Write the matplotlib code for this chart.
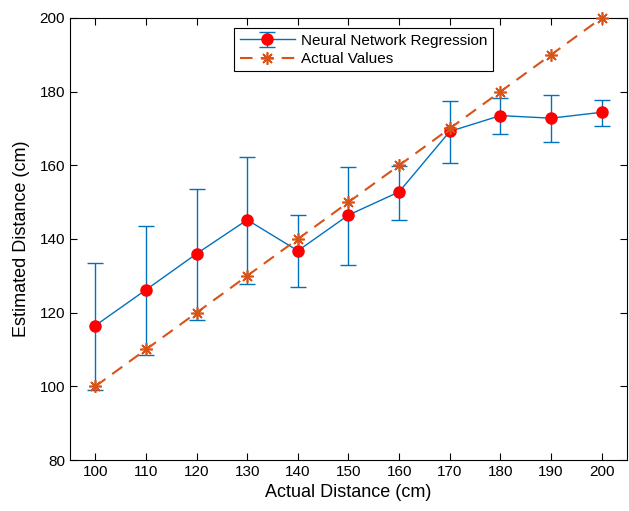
import matplotlib.pyplot as plt

plt.rcParams['font.family'] = ['Liberation Sans', 'DejaVu Sans']

# 数据
actual = [100, 110, 120, 130, 140, 150, 160, 170, 180, 190, 200]
nn_mean = [116.5, 126.2, 136.0, 145.2, 136.8, 146.5, 152.8, 169.2, 173.5, 172.8, 174.4]
nn_upper = [133.6, 143.4, 153.5, 162.2, 146.5, 159.5, 159.8, 177.4, 178.4, 179.1, 177.6]
nn_lower = [99.0, 108.5, 118.1, 127.9, 126.9, 133.0, 145.2, 160.7, 168.4, 166.3, 170.7]

blue = '#0072BD'
orange = '#D95319'

fig = plt.figure(figsize=(6.29, 5.11), dpi=100)
ax = fig.add_axes([0.1113, 0.0998, 0.8855, 0.865])

err_low = [m - lo for m, lo in zip(nn_mean, nn_lower)]
err_high = [hi - m for m, hi in zip(nn_mean, nn_upper)]

h1 = ax.errorbar(actual, nn_mean, yerr=[err_low, err_high], color=blue, linewidth=1,
                 ecolor=blue, elinewidth=1, capsize=6, capthick=1,
                 marker='o', markersize=8, markerfacecolor='red', markeredgecolor='red',
                 label='Neural Network Regression', zorder=2)
h2, = ax.plot(actual, actual, color=orange, linestyle=(0, (6, 4)), linewidth=1.5,
              marker=(8, 2, 0), markersize=9, markeredgewidth=1.2,
              label='Actual Values', zorder=3, clip_on=False)

ax.set_xlim(95, 205)
ax.set_ylim(80, 200)
ax.set_xticks(actual)
ax.set_yticks(range(80, 201, 20))
ax.tick_params(direction='in', top=True, right=True, length=5, labelsize=11, width=0.8)
for s in ax.spines.values():
    s.set_linewidth(0.8)

ax.set_xlabel('Actual Distance (cm)', fontsize=13)
ax.set_ylabel('Estimated Distance (cm)', fontsize=13, labelpad=7)

leg = ax.legend([h1, h2], ['Neural Network Regression', 'Actual Values'],
                loc='upper center', bbox_to_anchor=(0.527, 0.977), borderaxespad=0,
                fontsize=11, fancybox=False, edgecolor='black', framealpha=1,
                handlelength=3.6, borderpad=0.35, labelspacing=0.3, handletextpad=0.4)
leg.get_frame().set_linewidth(0.8)

fig.savefig('out.png', dpi=100)
